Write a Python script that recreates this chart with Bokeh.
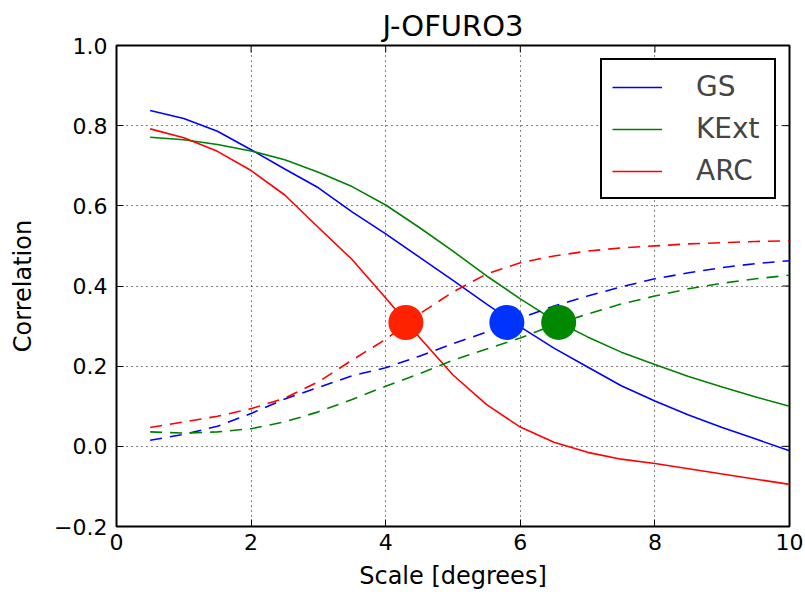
import math
from bokeh.plotting import figure
from bokeh.models import FixedTicker, Range1d, Label, Legend
from bokeh.embed import file_html
from bokeh.resources import INLINE

scale = [0.5, 1.0, 1.5, 2.0, 2.5, 3.0, 3.5, 4.0, 4.5, 5.0,
         5.5, 6.0, 6.5, 7.0, 7.5, 8.0, 8.5, 9.0, 9.5, 10.0]

gs_solid = [0.838, 0.818, 0.786, 0.740, 0.692, 0.645, 0.585, 0.530, 0.472, 0.414,
            0.355, 0.298, 0.245, 0.198, 0.151, 0.113, 0.078, 0.047, 0.018, -0.011]
kext_solid = [0.771, 0.765, 0.753, 0.737, 0.715, 0.684, 0.648, 0.602, 0.546, 0.487,
              0.425, 0.368, 0.315, 0.273, 0.235, 0.204, 0.174, 0.148, 0.123, 0.100]
arc_solid = [0.792, 0.770, 0.736, 0.688, 0.627, 0.546, 0.466, 0.370, 0.272, 0.178,
             0.104, 0.048, 0.010, -0.015, -0.032, -0.043, -0.056, -0.069, -0.082, -0.095]

gs_dash = [0.015, 0.030, 0.050, 0.082, 0.118, 0.147, 0.176, 0.196, 0.225, 0.256,
           0.285, 0.320, 0.350, 0.375, 0.398, 0.418, 0.433, 0.446, 0.456, 0.463]
kext_dash = [0.036, 0.033, 0.036, 0.044, 0.061, 0.086, 0.117, 0.150, 0.181, 0.215,
             0.243, 0.270, 0.303, 0.330, 0.355, 0.375, 0.393, 0.407, 0.418, 0.427]
arc_dash = [0.047, 0.061, 0.075, 0.094, 0.120, 0.161, 0.215, 0.267, 0.330, 0.385,
            0.430, 0.458, 0.475, 0.487, 0.495, 0.500, 0.505, 0.508, 0.511, 0.513]

names = ["GS", "KExt", "ARC"]
line_colors = ["#0000ff", "#008000", "#ff0000"]
dot_colors = ["#0033ff", "#008800", "#ff2200"]
cross_x = [5.8, 6.57, 4.3]
cross_y = [0.309, 0.309, 0.309]

x_ticks = [0, 2, 4, 6, 8, 10]
y_ticks = [-0.2, 0.0, 0.2, 0.4, 0.6, 0.8, 1.0]
y_tick_labels = ["\u22120.2", "0.0", "0.2", "0.4", "0.6", "0.8", "1.0"]

title_text = "J-OFURO3"
x_label = "Scale [degrees]"
y_label = "Correlation"
note_text = "et al. 2013 (in prep)"

FONT = "DejaVu Sans"

p = figure(width=805, height=595, output_backend="svg", toolbar_location=None,
           x_range=Range1d(0, 10), y_range=Range1d(-0.2, 1.0),
           min_border_left=116, min_border_right=16, min_border_top=45,
           min_border_bottom=69, title=title_text)
p.title.text_font = FONT
p.title.text_font_size = "29px"
p.title.text_font_style = "normal"
p.title.text_color = "black"
p.title.align = "center"
p.title.standoff = 5

p.outline_line_color = "black"
p.outline_line_width = 2
p.outline_line_alpha = 1

for ax in (p.xaxis[0], p.yaxis[0]):
    ax.axis_line_color = None
    ax.major_tick_in = 7
    ax.major_tick_out = 0
    ax.minor_tick_line_color = None
    ax.major_tick_line_color = "black"
    ax.major_tick_line_width = 1
    ax.major_label_text_font = FONT
    ax.major_label_text_font_size = "22px"
    ax.major_label_text_color = "black"
    ax.axis_label_text_font = FONT
    ax.axis_label_text_font_size = "24px"
    ax.axis_label_text_font_style = "normal"
    ax.axis_label_text_color = "black"

p.xaxis[0].ticker = FixedTicker(ticks=x_ticks)
p.yaxis[0].ticker = FixedTicker(ticks=y_ticks)
p.yaxis[0].major_label_overrides = {t: l for t, l in zip(y_ticks, y_tick_labels)}
p.xaxis[0].axis_label = x_label
p.yaxis[0].axis_label = y_label
p.xaxis[0].major_label_standoff = 7
p.yaxis[0].major_label_standoff = 9
p.xaxis[0].axis_label_standoff = 9
p.yaxis[0].axis_label_standoff = 14

# mirrored inward ticks on top and right edges
p.scatter(x_ticks, [p.y_range.end] * len(x_ticks), marker="dash", size=14,
          angle=math.pi / 2, line_color="black", line_width=1)
p.scatter([p.x_range.end] * len(y_ticks), y_ticks, marker="dash", size=14,
          line_color="black", line_width=1)

for g in (p.xgrid[0], p.ygrid[0]):
    g.grid_line_color = "black"
    g.grid_line_dash = "1 4"
    g.grid_line_width = 1

solids = [gs_solid, kext_solid, arc_solid]
dashes = [gs_dash, kext_dash, arc_dash]

items = []
for name, col, ys in zip(names, line_colors, solids):
    r = p.line(scale, ys, line_color=col, line_width=1.6)
    items.append((name, [r]))
for col, ys in zip(line_colors, dashes):
    p.line(scale, ys, line_color=col, line_width=1.6, line_dash="12 8")

p.scatter(cross_x, cross_y, size=35, fill_color=dot_colors, line_color=None, marker="circle")

legend = Legend(items=items, location="top_right")
legend.label_text_font = FONT
legend.label_text_font_size = "28px"
legend.label_height = 30
legend.label_width = 68
legend.glyph_height = 30
legend.glyph_width = 50
legend.label_standoff = 34
legend.spacing = 9
legend.padding = 10
legend.margin = 13
legend.border_line_color = "black"
legend.border_line_width = 2
legend.border_line_alpha = 1
legend.background_fill_alpha = 1
p.add_layout(legend, "center")

note = Label(x=-2.04, y=-0.36, text=note_text, text_font=FONT,
             text_font_size="38px", text_color="black", text_align="left",
             text_baseline="alphabetic", level="overlay")
p.add_layout(note)

open("out.html", "w").write(file_html(p, INLINE))
